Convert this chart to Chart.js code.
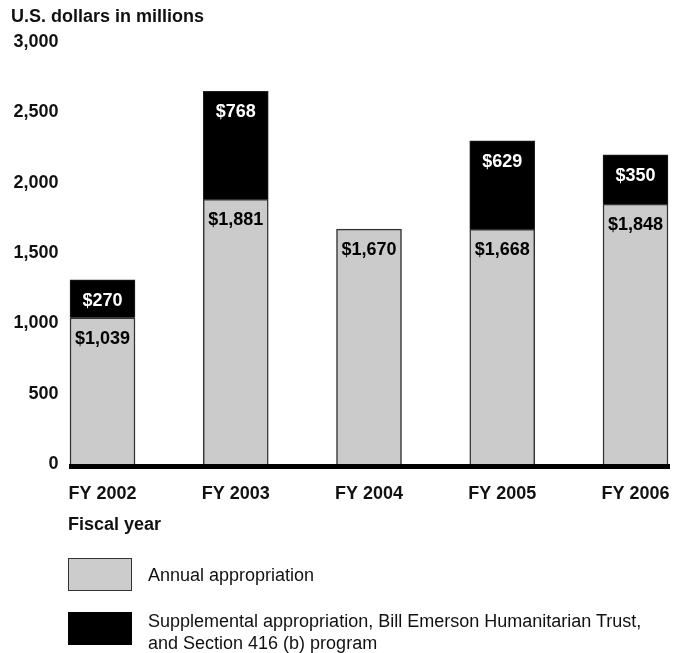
<!DOCTYPE html>
<html>
<head>
<meta charset="utf-8">
<script src="https://cdn.jsdelivr.net/npm/chart.js@4.4.1/dist/chart.umd.min.js"></script>
<style>
  html, body { margin: 0; padding: 0; background: #fff; }
  #wrap { position: relative; width: 675px; height: 653px; font-family: "Liberation Sans", Arial, sans-serif; color: #111; }
  #chart { position: absolute; left: 0; top: 0; }
  .txt { position: absolute; white-space: nowrap; font-size: 18px; line-height: 22px; }
  .bold { font-weight: bold; }
  .swatch { position: absolute; width: 64px; height: 33px; box-sizing: border-box; }
</style>
</head>
<body>
<div id="wrap">
  <canvas id="chart" width="675" height="653"></canvas>
  <div class="txt bold" style="left:11px; top:5px;">U.S. dollars in millions</div>
  <div class="txt bold" style="left:68px; top:513px;">Fiscal year</div>
  <div class="swatch" style="left:68px; top:558px; background:#cccccc; border:1.5px solid #333;"></div>
  <div class="txt" style="left:148px; top:564px;">Annual appropriation</div>
  <div class="swatch" style="left:68px; top:612px; background:#000;"></div>
  <div class="txt" style="left:148px; top:610px; line-height:22px;">Supplemental appropriation, Bill Emerson Humanitarian Trust,<br>and Section 416 (b) program</div>
</div>
<script>
// 年度別の予算額（単位：百万ドル）
const years = ['FY 2002', 'FY 2003', 'FY 2004', 'FY 2005', 'FY 2006'];
const annual = [1039, 1881, 1670, 1668, 1848];
const supplemental = [270, 768, null, 629, 350];
const yTicks = [0, 500, 1000, 1500, 2000, 2500, 3000];

const FONT = '"Liberation Sans", Arial, sans-serif';

// 棒の上部に金額ラベルを描画し、ゼロ位置に太い基線を引く
const valueLabels = {
    id: 'valueLabels',
    afterDatasetsDraw(chart) {
        const ctx = chart.ctx;
        ctx.save();
        ctx.font = 'bold 18px ' + FONT;
        ctx.textAlign = 'center';
        ctx.textBaseline = 'middle';
        chart.data.datasets.forEach((ds, di) => {
            const meta = chart.getDatasetMeta(di);
            meta.data.forEach((bar, i) => {
                const v = ds.data[i];
                if (v == null) return;
                ctx.fillStyle = di === 1 ? '#fff' : '#000';
                ctx.fillText('$' + v.toLocaleString('en-US'), bar.x, bar.y + 21);
            });
        });

        // 基線
        const bars = chart.getDatasetMeta(0).data;
        const first = bars[0], last = bars[bars.length - 1];
        const y0 = chart.scales.y.getPixelForValue(0);
        const x0 = first.x - first.width / 2 - 1;
        const x1 = last.x + last.width / 2 + 2;
        ctx.fillStyle = '#000';
        ctx.fillRect(x0, y0, x1 - x0, 5);
        ctx.restore();
    }
};

new Chart(document.getElementById('chart'), {
    type: 'bar',
    data: {
        labels: years,
        datasets: [
            {
                label: 'Annual appropriation',
                data: annual,
                backgroundColor: '#cbcbcb',
                borderColor: '#333',
                borderWidth: 1.5,
                barThickness: 65,
                clip: false
            },
            {
                label: 'Supplemental appropriation, Bill Emerson Humanitarian Trust, and Section 416 (b) program',
                data: supplemental,
                backgroundColor: '#000',
                borderColor: '#222',
                borderWidth: 1,
                barThickness: 65,
                clip: false
            }
        ]
    },
    options: {
        responsive: false,
        animation: false,
        layout: {
            padding: { left: 10, right: 39.5, top: 42, bottom: 139 }
        },
        plugins: {
            legend: { display: false },
            tooltip: { enabled: false }
        },
        scales: {
            x: {
                stacked: true,
                offset: false,
                // 目盛り線は描かず、tickLength をラベルとの間隔として使う
                grid: { display: false, drawTicks: true, tickLength: 19 },
                border: { display: false },
                ticks: {
                    color: '#111',
                    padding: 0,
                    maxRotation: 0,
                    font: { family: FONT, size: 18, weight: 'bold' }
                },
                afterFit(scale) { scale.height = 50; }
            },
            y: {
                stacked: true,
                min: 0,
                max: 3000,
                grid: { display: false, drawTicks: true, tickLength: 44 },
                border: { display: false },
                afterBuildTicks(scale) {
                    scale.ticks = yTicks.map(v => ({ value: v }));
                },
                ticks: {
                    color: '#111',
                    padding: 0,
                    font: { family: FONT, size: 18, weight: 'bold' },
                    callback: v => v.toLocaleString('en-US')
                },
                afterFit(scale) { scale.width = 92.5; }
            }
        }
    },
    plugins: [valueLabels]
});
</script>
</body>
</html>
